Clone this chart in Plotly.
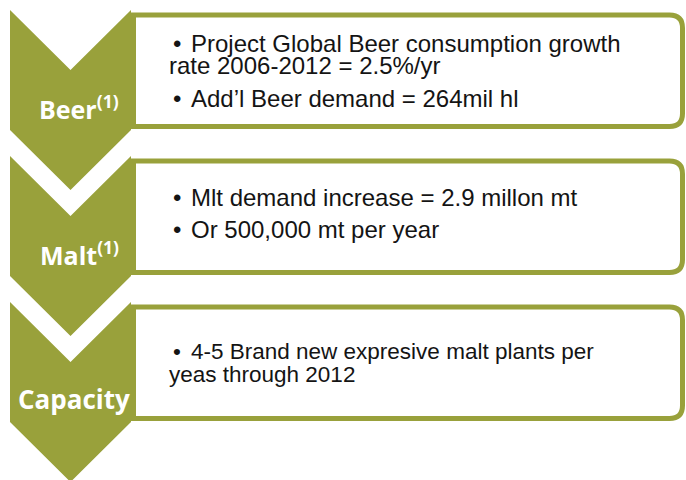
import plotly.graph_objects as go

# ---------------- data ----------------
categories = ["Beer", "Malt", "Capacity"]
footnotes = ["(1)", "(1)", ""]
bullets = [
    [["Project Global Beer consumption growth", "rate 2006-2012 = 2.5%/yr"],
     ["Add\u2019l Beer demand = 264mil hl"]],
    [["Mlt demand increase = 2.9 millon mt"],
     ["Or 500,000 mt per year"]],
    [["4-5 Brand new expresive malt plants per", "yeas through 2012"]],
]

# ---------------- layout constants ----------------
W, H = 686, 480
OLIVE = "#99A13B"
TEXT = "#141414"
ROW_TOP0, ROW_PITCH = 10, 146
CHEV_L, CHEV_R, CHEV_H, CHEV_D = 10, 131, 120, 60
BOX_L, BOX_R, BOX_T, BOX_B, BOX_RAD, BOX_LW = 133.5, 682.5, 5, 116.5, 13, 5
LABEL_CX = [79, 79, 74]
LABEL_BASE = 107
BODY_FS = [24, 24, 22.5]
LABEL_FS = [25, 25, 26]
BULLET_X, TEXT_X, WRAP_X = 171, 189, 167
WRAP_GAP, PARA_GAP = 22.5, 32.5
CAP = 0.716
BLOCK_CENTER = [60.5, 57, 60.5]

fig = go.Figure()
shapes, annos = [], []

for i, cat in enumerate(categories):
    T = ROW_TOP0 + ROW_PITCH * i
    # text box (rounded on the right)
    t, b = T + BOX_T, T + BOX_B
    r = BOX_RAD
    box_path = (f"M {BOX_L},{t} L {BOX_R - r},{t} Q {BOX_R},{t} {BOX_R},{t + r} "
                f"L {BOX_R},{b - r} Q {BOX_R},{b} {BOX_R - r},{b} L {BOX_L},{b} Z")
    shapes.append(dict(type="path", path=box_path, xref="x", yref="y",
                       fillcolor="white", line=dict(color=OLIVE, width=BOX_LW)))
    # chevron
    mid = (CHEV_L + CHEV_R) / 2
    chev = (f"M {CHEV_L},{T} L {mid},{T + CHEV_D} L {CHEV_R},{T} L {CHEV_R},{T + CHEV_H} "
            f"L {mid},{T + CHEV_H + CHEV_D} L {CHEV_L},{T + CHEV_H} Z")
    shapes.append(dict(type="path", path=chev, xref="x", yref="y",
                       fillcolor=OLIVE, line=dict(width=0)))
    # chevron label
    lab = f"<b>{cat}</b>"
    if footnotes[i]:
        lab += f"<sup><b>{footnotes[i]}</b></sup>"
    lfs = LABEL_FS[i]
    annos.append(dict(x=LABEL_CX[i], y=T + LABEL_BASE - 0.388 * lfs, xref="x", yref="y",
                      text=lab, showarrow=False, xanchor="center", yanchor="middle",
                      font=dict(family="Open Sans", size=lfs, color="white")))
    # body text lines
    fs = BODY_FS[i]
    lines = []  # (offset, text, is_first)
    off = 0.0
    for p, para in enumerate(bullets[i]):
        for k, ln in enumerate(para):
            if p > 0 or k > 0:
                off += PARA_GAP if k == 0 else WRAP_GAP
            lines.append((off, ln, k == 0))
    cap = CAP * fs
    block = cap + off
    first_base = T + BLOCK_CENTER[i] - block / 2 + cap
    for off, ln, first in lines:
        base = first_base + off
        yc = base - 0.3465 * fs
        if first:
            annos.append(dict(x=BULLET_X, y=yc, xref="x", yref="y", text="\u2022",
                              showarrow=False, xanchor="left", yanchor="middle",
                              font=dict(family="Liberation Sans", size=fs, color=TEXT)))
        annos.append(dict(x=TEXT_X if first else WRAP_X, y=yc, xref="x", yref="y", text=ln,
                          showarrow=False, xanchor="left", yanchor="middle",
                          font=dict(family="Liberation Sans", size=fs, color=TEXT)))

fig.update_layout(
    width=W, height=H, margin=dict(l=0, r=0, t=0, b=0),
    paper_bgcolor="white", plot_bgcolor="white",
    xaxis=dict(range=[0, W], visible=False, fixedrange=True),
    yaxis=dict(range=[H, 0], visible=False, fixedrange=True),
    shapes=shapes, annotations=annos, showlegend=False,
)
fig.write_html(
    "out.html",
    config={"displayModeBar": False},
    post_script="document.body.style.margin='0';document.body.style.overflow='hidden';",
)
